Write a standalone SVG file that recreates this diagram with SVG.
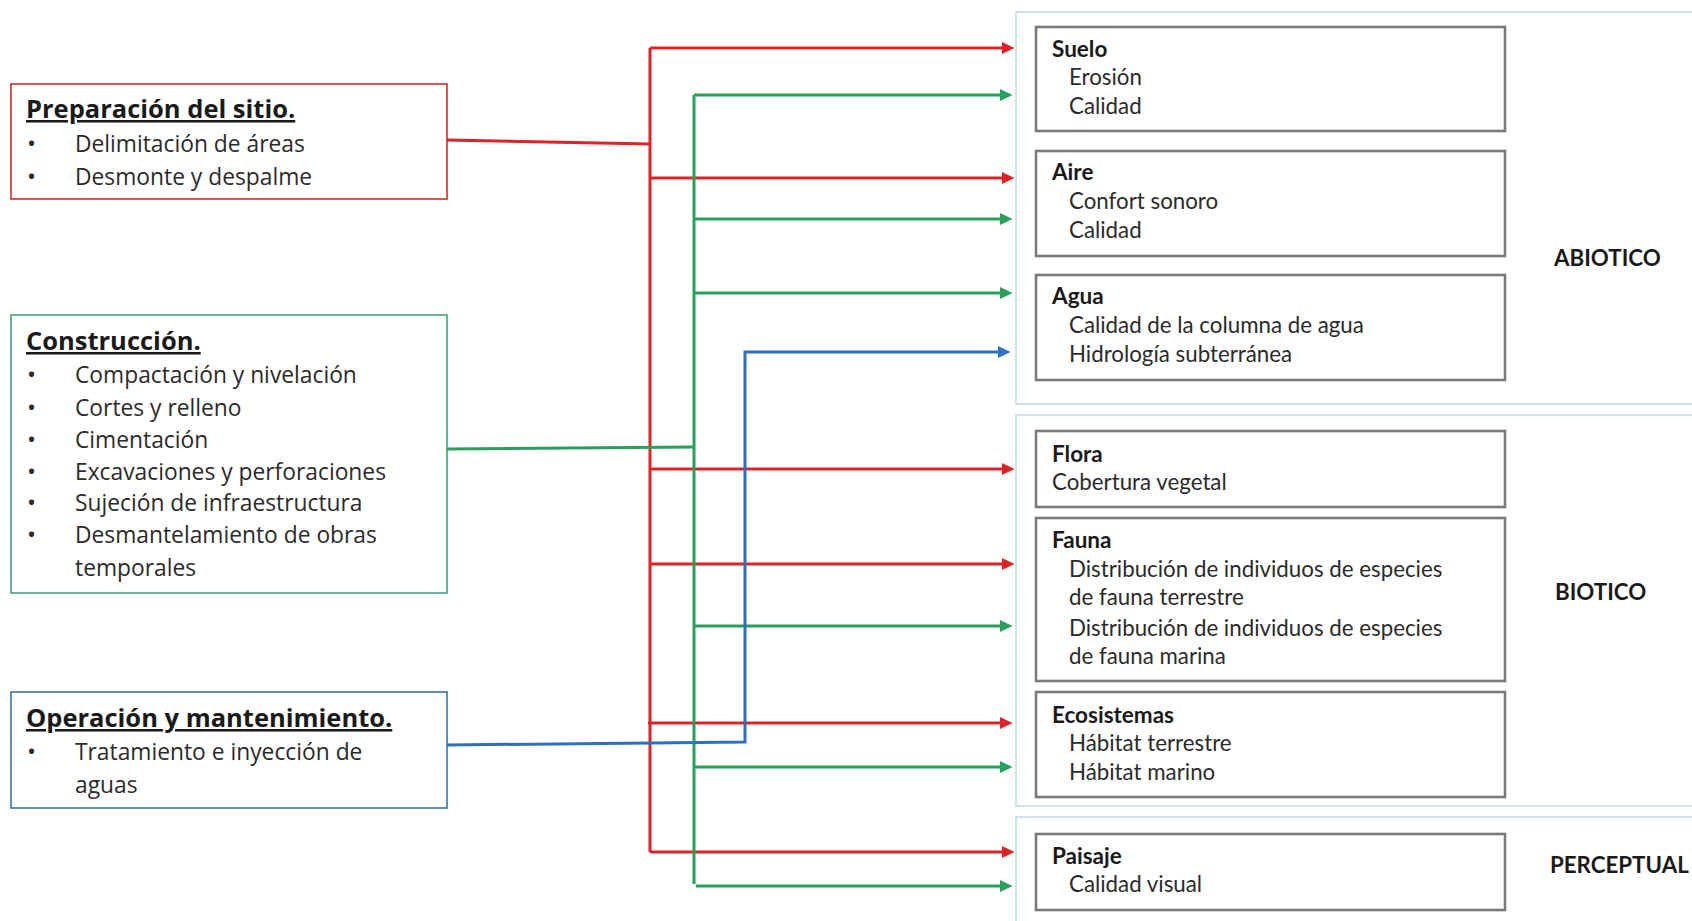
<svg xmlns="http://www.w3.org/2000/svg" width="1692" height="921" viewBox="0 0 1692 921">
  <style>
    .stage { fill: #ffffff; stroke-width: 1.6; }
    .head { font-family: "Open Sans", "Liberation Sans", sans-serif; font-weight: 700; font-size: 25.5px; fill: #1a1a1a; text-decoration: underline; }
    .item { font-family: "Open Sans", "Liberation Sans", sans-serif; font-size: 22.8px; fill: #2b2b2b; }
    .dot { font-family: "Open Sans", "Liberation Sans", sans-serif; font-size: 24px; fill: #2b2b2b; }
    .panel { fill: none; stroke: #bfdfe3; stroke-width: 1.6; }
    .factor { fill: #ffffff; stroke: #7a7a7a; stroke-width: 2.6; }
    .ftitle { font-family: Lato, "Liberation Sans", sans-serif; font-weight: 700; font-size: 22.5px; fill: #1a1a1a; }
    .fitem { font-family: Lato, "Liberation Sans", sans-serif; font-size: 22.3px; fill: #2b2b2b; }
    .side { font-family: Lato, "Liberation Sans", sans-serif; font-weight: 700; font-size: 22.3px; fill: #1a1a1a; }
    .wire { fill: none; stroke-width: 3; stroke-linejoin: miter; }
    .red { stroke: #dc2428; }
    .green { stroke: #2a9f5c; }
    .blue { stroke: #2e6fc2; }
  </style>
  <defs>
    <marker id="arrowRed" markerUnits="userSpaceOnUse" markerWidth="13" markerHeight="13" refX="1" refY="6.5" orient="auto">
      <path d="M0,0.5 L12.5,6.5 L0,12.5 z" fill="#dc2428"/>
    </marker>
    <marker id="arrowGreen" markerUnits="userSpaceOnUse" markerWidth="13" markerHeight="13" refX="1" refY="6.5" orient="auto">
      <path d="M0,0.5 L12.5,6.5 L0,12.5 z" fill="#2a9f5c"/>
    </marker>
    <marker id="arrowBlue" markerUnits="userSpaceOnUse" markerWidth="13" markerHeight="13" refX="1" refY="6.5" orient="auto">
      <path d="M0,0.5 L12.5,6.5 L0,12.5 z" fill="#2e6fc2"/>
    </marker>
  </defs>

  <rect x="0" y="0" width="1692" height="921" fill="#ffffff"/>

  <!-- project stages -->
  <g id="stage-preparacion">
    <rect class="stage" x="11" y="84" width="436" height="115" stroke="#c9302c"/>
    <text class="head" x="26" y="118">Preparación del sitio.</text>
    <text class="dot" x="27" y="152">•</text>
    <text class="item" x="75" y="152">Delimitación de áreas</text>
    <text class="dot" x="27" y="185">•</text>
    <text class="item" x="75" y="185">Desmonte y despalme</text>
  </g>

  <g id="stage-construccion">
    <rect class="stage" x="11" y="315" width="436" height="278" stroke="#3aa676"/>
    <text class="head" x="26" y="350">Construcción.</text>
    <text class="dot" x="27" y="383">•</text>
    <text class="item" x="75" y="383">Compactación y nivelación</text>
    <text class="dot" x="27" y="416">•</text>
    <text class="item" x="75" y="416">Cortes y relleno</text>
    <text class="dot" x="27" y="448">•</text>
    <text class="item" x="75" y="448">Cimentación</text>
    <text class="dot" x="27" y="480">•</text>
    <text class="item" x="75" y="480">Excavaciones y perforaciones</text>
    <text class="dot" x="27" y="511">•</text>
    <text class="item" x="75" y="511">Sujeción de infraestructura</text>
    <text class="dot" x="27" y="543">•</text>
    <text class="item" x="75" y="543">Desmantelamiento de obras</text>
    <text class="item" x="75" y="576">temporales</text>
  </g>

  <g id="stage-operacion">
    <rect class="stage" x="11" y="692" width="436" height="116" stroke="#3a72a8"/>
    <text class="head" x="26" y="727">Operación y mantenimiento.</text>
    <text class="dot" x="27" y="760">•</text>
    <text class="item" x="75" y="760">Tratamiento e inyección de</text>
    <text class="item" x="75" y="793">aguas</text>
  </g>

  <!-- environment components -->
  <g id="group-abiotico">
    <rect class="panel" x="1016" y="12" width="690" height="392"/>
    <text class="side" x="1554" y="266">ABIOTICO</text>
  </g>
  <g id="group-biotico">
    <rect class="panel" x="1016" y="415" width="690" height="391"/>
    <text class="side" x="1555" y="600">BIOTICO</text>
  </g>
  <g id="group-perceptual">
    <rect class="panel" x="1016" y="817" width="690" height="120"/>
    <text class="side" x="1550" y="873">PERCEPTUAL</text>
  </g>

  <g id="factor-suelo">
    <rect class="factor" x="1036" y="27" width="469" height="104"/>
    <text class="ftitle" x="1052" y="57">Suelo</text>
    <text class="fitem" x="1069" y="85">Erosión</text>
    <text class="fitem" x="1069" y="114">Calidad</text>
  </g>
  <g id="factor-aire">
    <rect class="factor" x="1036" y="151" width="469" height="105"/>
    <text class="ftitle" x="1052" y="180">Aire</text>
    <text class="fitem" x="1069" y="209">Confort sonoro</text>
    <text class="fitem" x="1069" y="238">Calidad</text>
  </g>
  <g id="factor-agua">
    <rect class="factor" x="1036" y="275" width="469" height="105"/>
    <text class="ftitle" x="1052" y="304">Agua</text>
    <text class="fitem" x="1069" y="333">Calidad de la columna de agua</text>
    <text class="fitem" x="1069" y="362">Hidrología subterránea</text>
  </g>
  <g id="factor-flora">
    <rect class="factor" x="1036" y="431" width="469" height="76"/>
    <text class="ftitle" x="1052" y="462">Flora</text>
    <text class="fitem" x="1052" y="490">Cobertura vegetal</text>
  </g>
  <g id="factor-fauna">
    <rect class="factor" x="1036" y="518" width="469" height="163"/>
    <text class="ftitle" x="1052" y="548">Fauna</text>
    <text class="fitem" x="1069" y="577">Distribución de individuos de especies</text>
    <text class="fitem" x="1069" y="605">de fauna terrestre</text>
    <text class="fitem" x="1069" y="636">Distribución de individuos de especies</text>
    <text class="fitem" x="1069" y="664">de fauna marina</text>
  </g>
  <g id="factor-ecosistemas">
    <rect class="factor" x="1036" y="692" width="469" height="105"/>
    <text class="ftitle" x="1052" y="723">Ecosistemas</text>
    <text class="fitem" x="1069" y="751">Hábitat terrestre</text>
    <text class="fitem" x="1069" y="780">Hábitat marino</text>
  </g>
  <g id="factor-paisaje">
    <rect class="factor" x="1036" y="834" width="469" height="76"/>
    <text class="ftitle" x="1052" y="864">Paisaje</text>
    <text class="fitem" x="1069" y="892">Calidad visual</text>
  </g>

  <!-- impact connectors -->
  <g id="connectors">
    <!-- site preparation (red) -->
    <path class="wire red" d="M447,140 L650,144"/>
    <path class="wire red" d="M650,48 V852"/>
    <path class="wire red" d="M650,48 H1003" marker-end="url(#arrowRed)"/>
    <path class="wire red" d="M650,178 H1003" marker-end="url(#arrowRed)"/>
    <path class="wire red" d="M650,469 H1003" marker-end="url(#arrowRed)"/>
    <path class="wire red" d="M650,564 H1003" marker-end="url(#arrowRed)"/>
    <path class="wire red" d="M648,723 H1001" marker-end="url(#arrowRed)"/>
    <path class="wire red" d="M650,852 H1003" marker-end="url(#arrowRed)"/>

    <!-- construction (green) -->
    <path class="wire green" d="M447,449 L694,447"/>
    <path class="wire green" d="M694,95 V884"/>
    <path class="wire green" d="M694,95 H1001" marker-end="url(#arrowGreen)"/>
    <path class="wire green" d="M694,219 H1001" marker-end="url(#arrowGreen)"/>
    <path class="wire green" d="M694,293 H1001" marker-end="url(#arrowGreen)"/>
    <path class="wire green" d="M694,626 H1001" marker-end="url(#arrowGreen)"/>
    <path class="wire green" d="M694,767 H1001" marker-end="url(#arrowGreen)"/>
    <path class="wire green" d="M696,886 H1001" marker-end="url(#arrowGreen)"/>

    <!-- operation (blue) -->
    <path class="wire blue" d="M447,745 L745,742 V352 H999" marker-end="url(#arrowBlue)"/>
  </g>
</svg>
